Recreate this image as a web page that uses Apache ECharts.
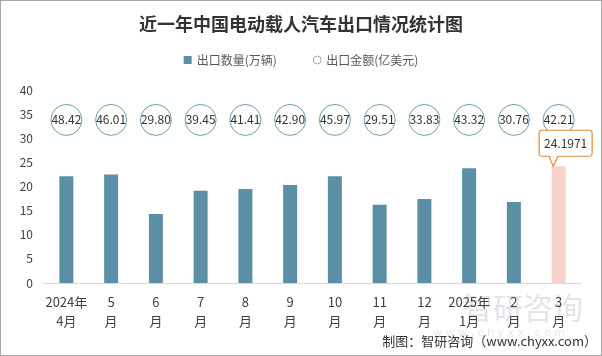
<!DOCTYPE html>
<html><head><meta charset="utf-8">
<script src="https://cdn.jsdelivr.net/npm/echarts@6/dist/echarts.min.js"></script>
<style>
html,body{margin:0;padding:0;background:#fff;}
#c{width:600px;height:354px;border:1px solid #a6a6a6;}
</style></head><body>
<div id="c"></div>
<script>
var categories = ['2024年\n4月','5\n月','6\n月','7\n月','8\n月','9\n月','10\n月','11\n月','12\n月','2025年\n1月','2\n月','3\n月'];
var quantity = [22.1, 22.5, 14.3, 19.1, 19.5, 20.3, 22.1, 16.2, 17.4, 23.8, 16.8, 24.1971];
var amount = ['48.42','46.01','29.80','39.45','41.41','42.90','45.97','29.51','33.83','43.32','30.76','42.21'];
var circleLevel = 33.8;
var yTicks = [0,5,10,15,20,25,30,35,40];

var chart = echarts.init(document.getElementById('c'), null, {renderer:'canvas'});
var font = '"Noto Sans CJK SC", "Noto Sans", sans-serif';
var barData = quantity.map(function(v,i){
  if (i === quantity.length-1) return {value:v, itemStyle:{color:'#f8d3cb'}};
  return v;
});
var circleData = amount.map(function(a,i){ return [i, circleLevel]; });

chart.setOption({
  animation:false,
  textStyle:{fontFamily:font},
  title:{text:'近一年中国电动载人汽车出口情况统计图', left:'center', top:9,
    textStyle:{fontSize:18, fontWeight:'bold', color:'#333', fontFamily:font}},
  legend:{top:48, left:'center', itemGap:36, itemWidth:8, itemHeight:8,
    textStyle:{fontSize:12, color:'#595959', fontFamily:font},
    data:[{name:'出口数量(万辆)', icon:'rect'},
          {name:'出口金额(亿美元)', icon:'circle', itemStyle:{color:'#fff', borderColor:'#8fb0c2', borderWidth:1}}]},
  grid:{left:43, right:20, top:89, bottom:72},
  xAxis:{type:'category', data:categories, boundaryGap:true,
    axisLine:{lineStyle:{color:'#d9d9d9', width:1}}, axisTick:{show:false},
    axisLabel:{interval:0, color:'#404040', fontSize:13, lineHeight:19, margin:10, fontFamily:font}},
  yAxis:{type:'value', min:0, max:40, interval:5, splitLine:{show:false},
    axisLine:{show:false}, axisTick:{show:false},
    axisLabel:{color:'#404040', fontSize:12, margin:11, fontFamily:font}},
  series:[
    {name:'出口数量(万辆)', type:'bar', data:barData, barWidth:14, itemStyle:{color:'#5b8fa6'},
     markPoint:{
       data:[{coord:[quantity.length-1, quantity[quantity.length-1]], value:quantity[quantity.length-1]}],
       symbol:'path://M3,0 H50 Q53,0 53,3 V23 Q53,26 50,26 H19 L14,36 L10,26 H3 Q0,26 0,23 V3 Q0,0 3,0 Z',
       symbolSize:[53,36], symbolKeepAspect:false, symbolOffset:[7,-18],
       itemStyle:{color:'#fff', borderColor:'#e8883a', borderWidth:1},
       label:{show:true, formatter:function(p){return String(p.value);}, color:'#333', fontSize:12, offset:[0,-5], fontFamily:font}
     }},
    {name:'出口金额(亿美元)', type:'scatter', data:circleData, symbol:'circle', symbolSize:31,
     itemStyle:{color:'#fff', borderColor:'#6e9cb3', borderWidth:1, opacity:1},
     label:{show:true, position:'inside', color:'#333', fontSize:12, fontFamily:font,
       formatter:function(p){return amount[p.dataIndex];}},
     z:3}
  ],
  graphic:[
    {type:'text', left:462, top:292, silent:true, z:-1,
     style:{text:'智研咨询', fill:'rgba(190,196,206,0.45)', font:'30px "Noto Sans CJK SC"'}},
    {type:'text', left:432, top:327, silent:true, z:-1,
     style:{text:'w w w . c h y x x . c o m', fill:'rgba(200,204,212,0.45)', font:'11px "DejaVu Sans"'}},
    {type:'text', right:4, top:334, style:{text:'制图：智研咨询（www.chyxx.com）', fill:'#333', font:'13px "Noto Sans CJK SC"'}}
  ]
});
</script></body></html>
